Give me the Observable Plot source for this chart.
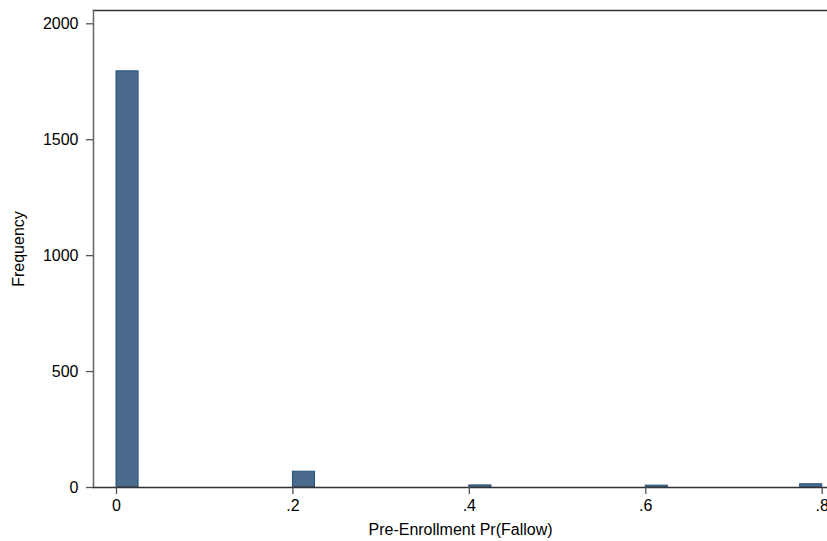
<!DOCTYPE html>
<html>
<head>
<meta charset="utf-8">
<script src="https://cdn.jsdelivr.net/npm/d3@7"></script>
<script src="https://cdn.jsdelivr.net/npm/@observablehq/plot@0.6"></script>
<style>
  html, body { margin: 0; padding: 0; background: #fff; }
  #chart svg { display: block; }
</style>
</head>
<body>
<div id="chart"></div>
<script>
// Histogram bins (left / right edges) and their counts
const binStart = [0, 0.2, 0.4, 0.6, 0.775];
const binEnd = [0.025, 0.225, 0.425, 0.625, 0.8];
const frequency = [1795, 68, 9, 8, 14];

// Axis ticks
const xTicks = [0, 0.2, 0.4, 0.6, 0.8];
const xTickLabels = ["0", ".2", ".4", ".6", ".8"];
const yTicks = [0, 500, 1000, 1500, 2000];

const bins = binStart.map((x1, i) => ({x1, x2: binEnd[i], count: frequency[i]}));

const font = "'Liberation Sans', Arial, Helvetica, sans-serif";

const chart = Plot.plot({
  width: 827,
  height: 541,
  marginLeft: 93,
  marginRight: 0,
  marginTop: 10,
  marginBottom: 54,
  style: {fontFamily: font, fontSize: "16px", color: "#000", background: "#fff"},
  x: {domain: [0, 0.8], range: [116, 821.7]},
  y: {domain: [0, 2000], range: [487, 23.3]},
  marks: [
    Plot.frame({anchor: "top", stroke: "#333", strokeWidth: 1.3}),
    Plot.frame({anchor: "left", stroke: "#666", strokeWidth: 1.5}),
    Plot.rectY(bins, {
      x1: "x1", x2: "x2", y: "count",
      fill: "#4a6b8c", stroke: "#22507a", strokeWidth: 1, inset: 0
    }),
    Plot.ruleY([0], {stroke: "#333", strokeWidth: 1.3}),
    Plot.axisX(xTicks, {
      tickSize: 7, tickPadding: 5, stroke: "#555", strokeWidth: 1.3,
      tickFormat: (d) => xTickLabels[xTicks.indexOf(d)],
      label: "Pre-Enrollment Pr(Fallow)", labelAnchor: "center", labelArrow: "none",
      labelOffset: 47, fontSize: 16, fill: "#000"
    }),
    Plot.axisY(yTicks, {
      tickSize: 7, tickPadding: 8, stroke: "#555", strokeWidth: 1.3,
      tickFormat: d => String(d),
      label: "Frequency", labelAnchor: "center", labelArrow: "none",
      labelOffset: 81, fontSize: 16, fill: "#000"
    })
  ]
});

document.getElementById("chart").appendChild(chart);
</script>
</body>
</html>
